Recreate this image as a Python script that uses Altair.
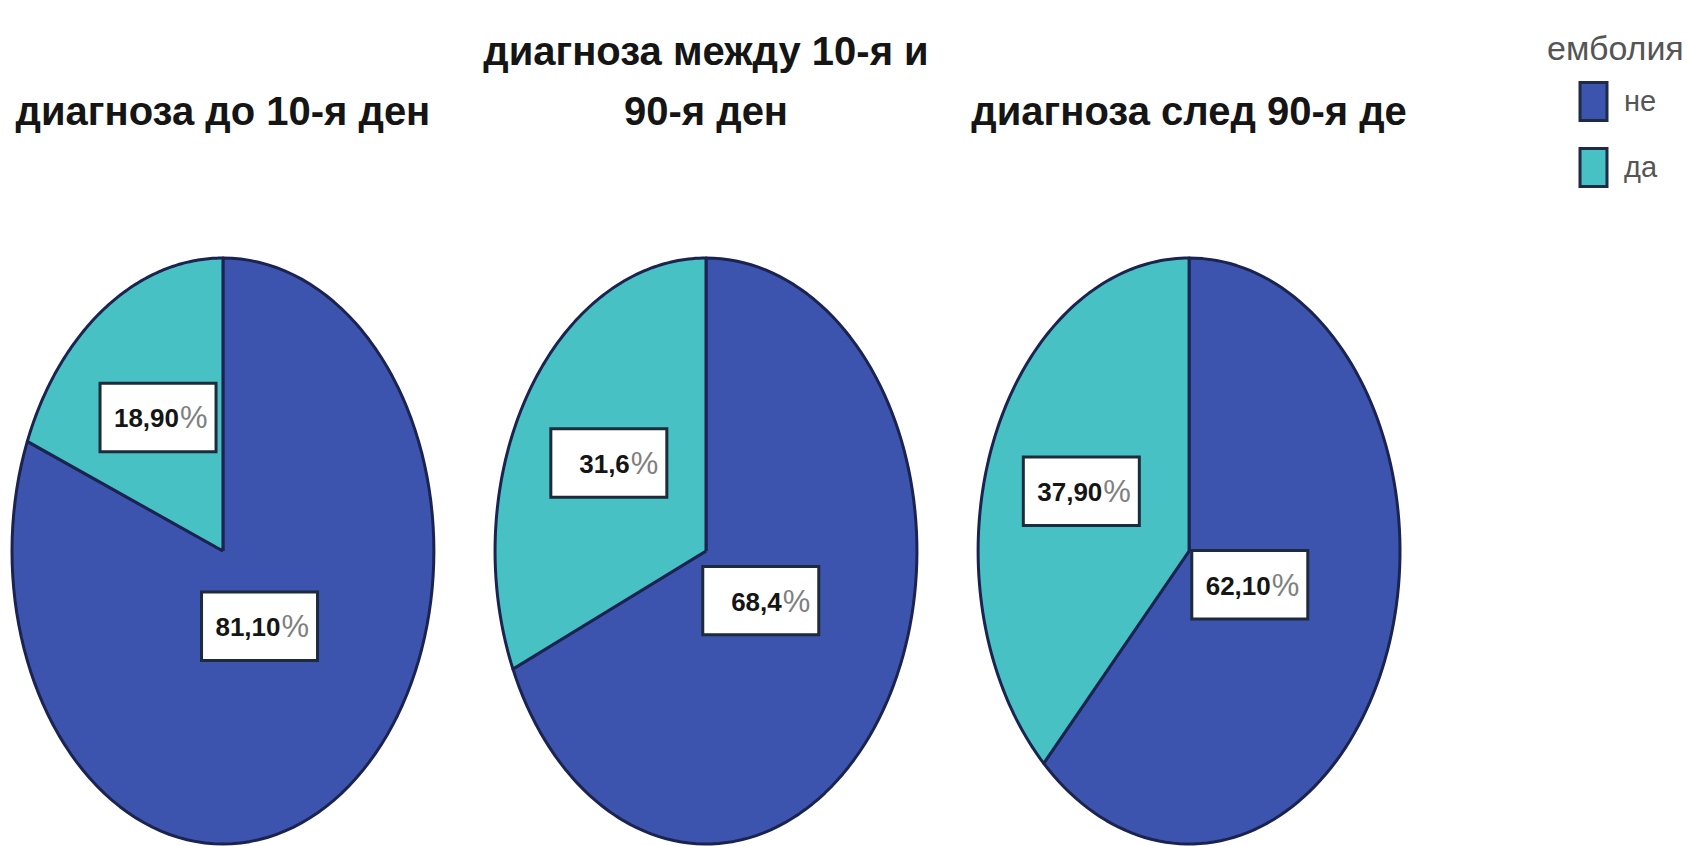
import altair as alt
import pandas as pd

# ---- data ----
panel_titles = [["диагноза до 10-я ден"], ["диагноза между 10-я и", "90-я ден"], ["диагноза след 90-я де"]]
categories = ["не", "да"]
ne_pct = [81.1, 68.4, 62.1]
da_pct = [18.9, 31.6, 37.9]
ne_labels = ["81,10", "68,4\u2002", "62,10"]
da_labels = ["18,90", "31,6", "37,90\u2002"]
legend_title = "емболия"

rows = []
for i in range(3):
    rows.append(dict(panel=i, cat=categories[0], ord=0, pct=ne_pct[i], lab=ne_labels[i]))
    rows.append(dict(panel=i, cat=categories[1], ord=1, pct=da_pct[i], lab=da_labels[i]))
df = pd.DataFrame(rows)
titles_df = pd.DataFrame({"panel": [0, 1, 2], "title": panel_titles})

# ---- layout constants ----
S = 2.29      # distance between pie centres, in radii
N = 120       # arc resolution
BLUE = "#3D54AE"
TEAL = "#47C1C4"
EDGE = "#1b2350"
FONT = "Liberation Sans, Arial, sans-serif"

xs = alt.Scale(domain=[-1, 2 * S + 1], nice=False, zero=False)
ys = alt.Scale(domain=[-1, 1], nice=False, zero=False)

base = alt.Chart(df).transform_window(
    cum="sum(pct)", groupby=["panel"], sort=[alt.SortField("ord")], frame=[None, 0]
).transform_calculate(
    a0="(datum.cum - datum.pct) / 100", a1="datum.cum / 100"
)

wedges = base.transform_calculate(
    k=f"sequence(-1, {N + 2})"
).transform_flatten(["k"]).transform_calculate(
    t=f"datum.a0 + (datum.a1 - datum.a0) * clamp(datum.k, 0, {N}) / {N}",
    r=f"(datum.k < 0 || datum.k > {N}) ? 0 : 1",
).transform_calculate(
    px=f"datum.panel * {S} + datum.r * sin(2 * PI * datum.t)",
    py="datum.r * cos(2 * PI * datum.t)",
).mark_line(stroke=EDGE, strokeWidth=3, strokeJoin="round").encode(
    x=alt.X("px:Q", scale=xs, axis=None),
    y=alt.Y("py:Q", scale=ys, axis=None),
    fill=alt.Fill(
        "cat:N",
        scale=alt.Scale(domain=categories, range=[BLUE, TEAL]),
        sort=categories,
        legend=alt.Legend(
            title=legend_title, orient="none", legendX=1535, legendY=-225,
            titleFont=FONT, titleFontSize=34, titleFontWeight="normal", titleColor="#555555",
            titlePadding=14, labelFont=FONT, labelFontSize=29, labelColor="#555555",
            symbolType="M-0.71,-1H0.71V1H-0.71Z", symbolSize=1444,
            symbolStrokeColor="#1f2a44", symbolStrokeWidth=3, symbolOffset=26,
            labelOffset=10, rowPadding=15, padding=0,
        ),
    ),
    detail="panel:N",
    order="k:Q",
)

lab = base.transform_calculate(
    mid="(datum.a0 + datum.a1) / 2", lr="datum.ord == 0 ? 0.31 : 0.55"
).transform_calculate(
    lx=f"datum.panel * {S} + datum.lr * sin(2 * PI * datum.mid)",
    ly="datum.lr * cos(2 * PI * datum.mid)",
)
enc = dict(x=alt.X("lx:Q", scale=xs, axis=None), y=alt.Y("ly:Q", scale=ys, axis=None))

boxes = lab.mark_point(
    shape="M-1,-0.59H1V0.59H-1Z", size=116 ** 2, filled=True, fill="white",
    stroke="#1d2b3c", strokeWidth=3, opacity=1,
).encode(**enc)
nums = lab.mark_text(
    align="right", baseline="middle", dx=21, dy=2, font=FONT, fontSize=26,
    fontWeight="bold", color="#151515",
).encode(text="lab:N", **enc)
pcts = lab.mark_text(
    align="left", baseline="middle", dx=22, dy=2, font=FONT, fontSize=31,
    color="#808080", text="%",
).encode(**enc)

titles = alt.Chart(titles_df).transform_calculate(
    tx=f"datum.panel * {S}",
    ty="1.425 + (length(datum.title) - 1) * 0.2048",
).mark_text(
    font=FONT, fontSize=40, fontWeight="bold", baseline="bottom", lineHeight=60,
    color="#151515",
).encode(
    x=alt.X("tx:Q", scale=xs, axis=None),
    y=alt.Y("ty:Q", scale=ys, axis=None),
    text="title",
)

chart = alt.layer(wedges, boxes, nums, pcts, titles).properties(
    width=1388, height=586,
    padding={"left": 12, "top": 258, "right": 287, "bottom": 2},
    autosize=alt.AutoSizeParams(type="none"),
    background="white",
).configure_view(stroke=None)

chart.save("out.html", embed_options={"renderer": "svg", "actions": False})
